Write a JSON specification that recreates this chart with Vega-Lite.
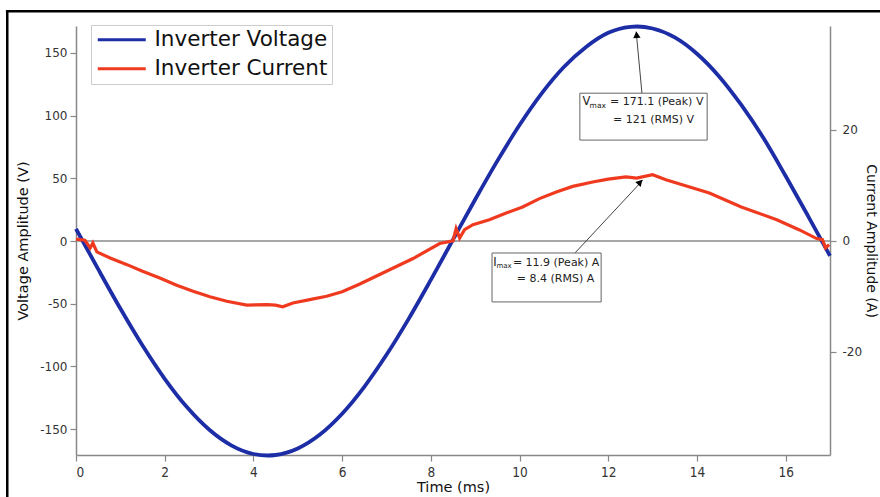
{
  "$schema": "https://vega.github.io/schema/vega-lite/v6.json",
  "width": 754,
  "height": 429,
  "autosize": {"type": "none"},
  "padding": {"left": 76, "top": 26, "right": 50, "bottom": 42},
  "background": "white",
  "data": {"values": [{}]},
  "config": {
    "view": {"stroke": null},
    "font": "DejaVu Sans",
    "axis": {
      "domainColor": "#888888",
      "domainWidth": 1.5,
      "tickColor": "#888888",
      "tickWidth": 1.2,
      "tickSize": 6,
      "labelColor": "#333333",
      "labelFontSize": 12,
      "labelFont": "DejaVu Sans",
      "titleFont": "DejaVu Sans",
      "titleFontSize": 14.5,
      "titleFontWeight": "normal",
      "titleColor": "#111111",
      "grid": false,
      "labelExpr": "(datum.value < 0 ? '-' : '') + abs(datum.value)"
    },
    "legend": {
      "labelFont": "DejaVu Sans"
    }
  },
  "datasets": {
    "voltage": [
      {"t": 0, "v": 9.7}, {"t": 0.5, "v": -22.5}, {"t": 1, "v": -53.9}, {"t": 1.5, "v": -83.4},
      {"t": 2, "v": -109.9}, {"t": 2.5, "v": -132.5}, {"t": 3, "v": -150.4}, {"t": 3.5, "v": -163.0},
      {"t": 4, "v": -169.9}, {"t": 4.32, "v": -171.1}, {"t": 4.5, "v": -170.7}, {"t": 5, "v": -165.5},
      {"t": 5.5, "v": -154.4}, {"t": 6, "v": -137.8}, {"t": 6.5, "v": -116.3}, {"t": 7, "v": -90.8},
      {"t": 7.5, "v": -62.1}, {"t": 8, "v": -31.0}, {"t": 8.5, "v": 1.1}, {"t": 9, "v": 33.1},
      {"t": 9.5, "v": 63.9}, {"t": 10, "v": 92.5}, {"t": 10.5, "v": 117.8}, {"t": 11, "v": 138.8},
      {"t": 11.5, "v": 154.8}, {"t": 12, "v": 166.1}, {"t": 12.5, "v": 170.8}, {"t": 12.65, "v": 171.1},
      {"t": 13, "v": 169.5}, {"t": 13.5, "v": 162.4}, {"t": 14, "v": 149.4}, {"t": 14.5, "v": 131.3},
      {"t": 15, "v": 108.5}, {"t": 15.5, "v": 82.1}, {"t": 16, "v": 51.8}, {"t": 16.5, "v": 20.3},
      {"t": 17, "v": -11.8}
    ],
    "current": [
      {"t": 0, "i": 0.3}, {"t": 0.2, "i": 0.1}, {"t": 0.32, "i": -1.3}, {"t": 0.38, "i": -0.4},
      {"t": 0.47, "i": -2.0}, {"t": 0.77, "i": -3.1}, {"t": 1.15, "i": -4.3}, {"t": 1.5, "i": -5.5},
      {"t": 1.89, "i": -6.7}, {"t": 2.27, "i": -8.0}, {"t": 2.64, "i": -9.1}, {"t": 3.02, "i": -10.1},
      {"t": 3.4, "i": -10.9}, {"t": 3.85, "i": -11.6}, {"t": 4.3, "i": -11.5}, {"t": 4.5, "i": -11.6},
      {"t": 4.66, "i": -11.9}, {"t": 4.89, "i": -11.2}, {"t": 5.27, "i": -10.6}, {"t": 5.65, "i": -10.0},
      {"t": 6.0, "i": -9.2}, {"t": 6.4, "i": -7.8}, {"t": 7.0, "i": -5.5}, {"t": 7.6, "i": -3.2},
      {"t": 8.2, "i": -0.5}, {"t": 8.5, "i": 0.0}, {"t": 8.57, "i": 2.2}, {"t": 8.65, "i": 0.5},
      {"t": 8.76, "i": 2.0}, {"t": 8.95, "i": 2.9}, {"t": 9.32, "i": 3.8}, {"t": 9.7, "i": 5.0},
      {"t": 10.07, "i": 6.1}, {"t": 10.45, "i": 7.6}, {"t": 10.83, "i": 8.8}, {"t": 11.2, "i": 9.8},
      {"t": 11.65, "i": 10.6}, {"t": 12.0, "i": 11.1}, {"t": 12.4, "i": 11.5}, {"t": 12.64, "i": 11.3},
      {"t": 13.0, "i": 11.9}, {"t": 13.3, "i": 11.0}, {"t": 13.54, "i": 10.4}, {"t": 14.28, "i": 8.6},
      {"t": 15.0, "i": 6.1}, {"t": 15.8, "i": 3.8}, {"t": 16.3, "i": 2.0}, {"t": 16.7, "i": 0.4},
      {"t": 16.83, "i": 0.2}, {"t": 16.9, "i": -1.3}, {"t": 16.98, "i": -0.7}
    ]
  },
  "layer": [
    {
      "layer": [
        {
          "mark": {"type": "rule", "color": "#8a8a8a", "strokeWidth": 1.5},
          "encoding": {"y": {"datum": 0}}
        },
        {
          "data": {"name": "voltage"},
          "mark": {"type": "line", "strokeWidth": 3.8, "interpolate": "monotone"},
          "encoding": {
            "x": {
              "field": "t", "type": "quantitative",
              "scale": {"domain": [0, 17], "nice": false, "zero": false},
              "axis": {"values": [0, 2, 4, 6, 8, 10, 12, 14, 16], "title": "Time (ms)", "labelFont": "DejaVu Sans Condensed, Liberation Sans Narrow, sans-serif", "labelFontSize": 13.5, "titlePadding": 2, "labelPadding": 4}
            },
            "y": {
              "field": "v", "type": "quantitative",
              "scale": {"domain": [-170.7, 171.5], "nice": false, "zero": false},
              "axis": {"values": [-150, -100, -50, 0, 50, 100, 150], "title": "Voltage Amplitude (V)", "orient": "left", "labelPadding": 3, "titlePadding": 9}
            },
            "color": {
              "datum": "Inverter Voltage",
              "type": "nominal",
              "scale": {"domain": ["Inverter Voltage", "Inverter Current"], "range": ["#1c2da6", "#f03a1f"]},
              "legend": {
                "title": null,
                "orient": "none",
                "legendX": 15,
                "legendY": -1,
                "symbolType": "M-1,0H5",
                "symbolSize": 256,
                "symbolStrokeWidth": 3,
                "labelFontSize": 21.5,
                "labelLimit": 400,
                "labelColor": "#111111",
                "labelOffset": 38,
                "strokeColor": "#cccccc",
                "fillColor": "white",
                "padding": 4,
                "rowPadding": 6
              }
            }
          }
        },
        {
          "mark": {"type": "rule", "color": "black", "strokeWidth": 2.5, "clip": false},
          "encoding": {
            "x": {"datum": -1.55},
            "y": {"datum": 183.3},
            "y2": {"datum": -215}
          }
        },
        {
          "mark": {"type": "rule", "color": "black", "strokeWidth": 2.5, "clip": false},
          "encoding": {
            "x": {"datum": -1.58},
            "x2": {"datum": 18.5},
            "y": {"datum": 183.3}
          }
        },
        {
          "mark": {"type": "rule", "color": "#444444", "strokeWidth": 1},
          "encoding": {
            "x": {"datum": 12.76}, "y": {"datum": 117.9},
            "x2": {"datum": 12.63}, "y2": {"datum": 167}
          }
        },
        {
          "mark": {"type": "point", "shape": "triangle-up", "filled": true, "color": "black", "size": 55, "angle": 355, "opacity": 1},
          "encoding": {"x": {"datum": 12.64}, "y": {"datum": 164.5}}
        },
        {
          "mark": {"type": "rule", "color": "#444444", "strokeWidth": 1},
          "encoding": {
            "x": {"datum": 11.25}, "y": {"datum": -9.56},
            "x2": {"datum": 12.78}, "y2": {"datum": 48.5}
          }
        },
        {
          "mark": {"type": "point", "shape": "triangle-up", "filled": true, "color": "black", "size": 55, "angle": 43, "opacity": 1},
          "encoding": {"x": {"datum": 12.72}, "y": {"datum": 46.9}}
        },
        {
          "mark": {"type": "rect", "fill": "#b5b5b5", "xOffset": 2, "yOffset": 2},
          "encoding": {
            "x": {"datum": 11.36}, "x2": {"datum": 14.23},
            "y": {"datum": 117.9}, "y2": {"datum": 80.5}
          }
        },
        {
          "mark": {"type": "rect", "fill": "white", "stroke": "#666666", "strokeWidth": 1},
          "encoding": {
            "x": {"datum": 11.36}, "x2": {"datum": 14.23},
            "y": {"datum": 117.9}, "y2": {"datum": 80.5}
          }
        },
        {
          "mark": {"type": "rect", "fill": "#b5b5b5", "xOffset": 2, "yOffset": 2},
          "encoding": {
            "x": {"datum": 9.38}, "x2": {"datum": 11.84},
            "y": {"datum": -9.56}, "y2": {"datum": -48.6}
          }
        },
        {
          "mark": {"type": "rect", "fill": "white", "stroke": "#666666", "strokeWidth": 1},
          "encoding": {
            "x": {"datum": 9.38}, "x2": {"datum": 11.84},
            "y": {"datum": -9.56}, "y2": {"datum": -48.6}
          }
        },
        {
          "mark": {"type": "text", "align": "left", "baseline": "middle", "fontSize": 11.5, "color": "#222222"},
          "encoding": {"x": {"datum": 11.42}, "y": {"datum": 110.8}, "text": {"value": "V"}}
        },
        {
          "mark": {"type": "text", "align": "left", "baseline": "middle", "fontSize": 7.5, "color": "#222222"},
          "encoding": {"x": {"datum": 11.58}, "y": {"datum": 107.4}, "text": {"value": "max"}}
        },
        {
          "mark": {"type": "text", "align": "left", "baseline": "middle", "fontSize": 11, "color": "#222222"},
          "encoding": {"x": {"datum": 12.04}, "y": {"datum": 110.8}, "text": {"value": "= 171.1 (Peak) V"}}
        },
        {
          "mark": {"type": "text", "align": "left", "baseline": "middle", "fontSize": 11, "color": "#222222"},
          "encoding": {"x": {"datum": 12.11}, "y": {"datum": 96.4}, "text": {"value": "= 121 (RMS) V"}}
        },
        {
          "mark": {"type": "text", "align": "left", "baseline": "middle", "fontSize": 11.5, "color": "#222222"},
          "encoding": {"x": {"datum": 9.41}, "y": {"datum": -17.5}, "text": {"value": "I"}}
        },
        {
          "mark": {"type": "text", "align": "left", "baseline": "middle", "fontSize": 7, "color": "#222222"},
          "encoding": {"x": {"datum": 9.48}, "y": {"datum": -20.3}, "text": {"value": "max"}}
        },
        {
          "mark": {"type": "text", "align": "left", "baseline": "middle", "fontSize": 11, "color": "#222222"},
          "encoding": {"x": {"datum": 9.85}, "y": {"datum": -17.5}, "text": {"value": "= 11.9 (Peak) A"}}
        },
        {
          "mark": {"type": "text", "align": "left", "baseline": "middle", "fontSize": 11, "color": "#222222"},
          "encoding": {"x": {"datum": 9.94}, "y": {"datum": -30.3}, "text": {"value": "= 8.4 (RMS) A"}}
        }
      ]
    },
    {
      "data": {"name": "current"},
      "mark": {"type": "line", "strokeWidth": 3.2},
      "encoding": {
        "x": {"field": "t", "type": "quantitative"},
        "y": {
          "field": "i", "type": "quantitative",
          "scale": {"domain": [-38.6, 38.7], "nice": false, "zero": false},
          "axis": {"values": [-20, 0, 20], "title": "Current Amplitude (A)", "orient": "right", "labelPadding": 6, "titlePadding": 2, "titleFontSize": 14}
        },
        "color": {"datum": "Inverter Current", "type": "nominal"}
      }
    }
  ],
  "resolve": {"scale": {"y": "independent"}}
}
